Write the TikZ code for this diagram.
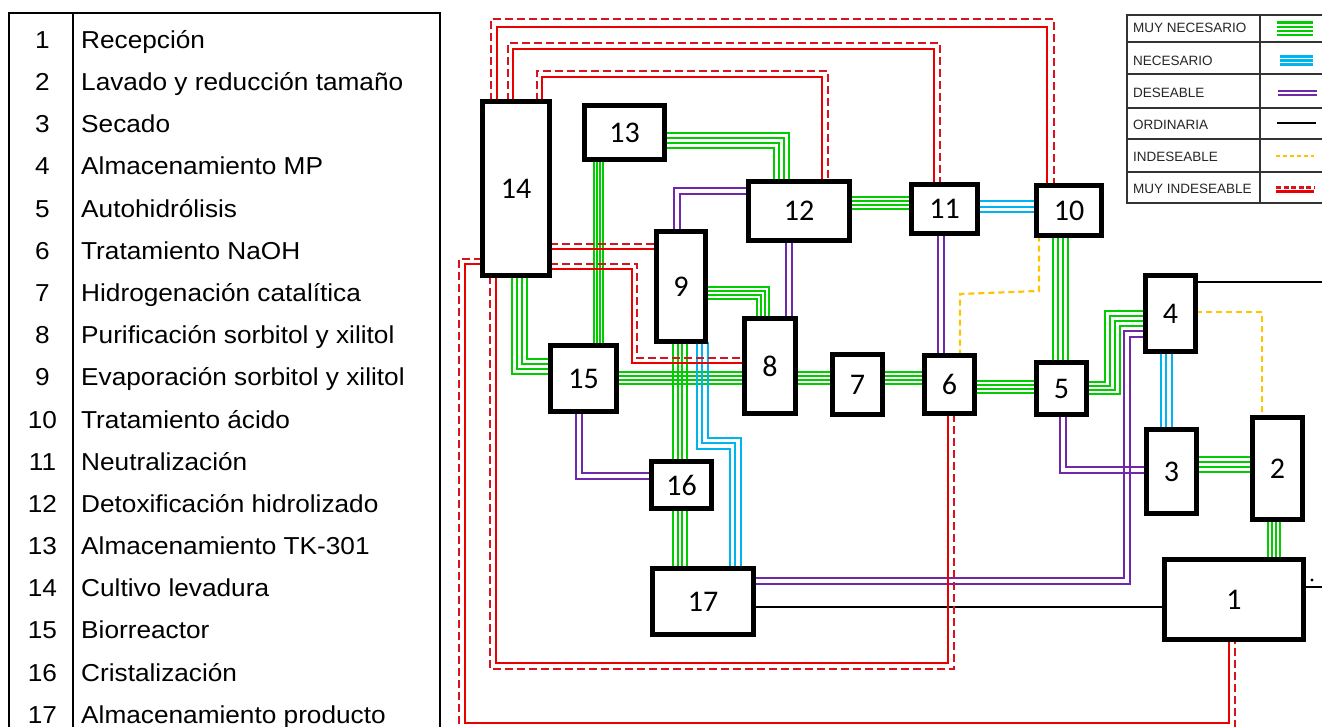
\documentclass[tikz,border=0pt]{standalone}
\usepackage{fontspec}
\setmainfont{Liberation Sans}
\newfontfamily\boxfont{Carlito}
\newfontfamily\tabfont[FakeStretch=1.07]{Liberation Sans}
\usetikzlibrary{calc}
\definecolor{cg}{RGB}{0,204,0}
\definecolor{cc}{RGB}{0,180,240}
\definecolor{cp}{RGB}{112,40,170}
\definecolor{cy}{RGB}{255,196,0}
\definecolor{cr}{RGB}{235,0,0}
\definecolor{crd}{RGB}{215,20,30}
\begin{document}
\begin{tikzpicture}[x=1pt,y=-1pt,
  bx/.style={inner sep=0pt, outer sep=0pt, font=\boxfont\fontsize{30}{31}\selectfont},
  bord/.style={draw=black, line width=4.8pt},
  gl/.style={draw=cg, line width=2pt},
  cl/.style={draw=cc, line width=2pt},
  pl/.style={draw=cp, line width=1.9pt},
  bl/.style={draw=black, line width=1.8pt},
  yl/.style={draw=cy, line width=2.2pt, dash pattern=on 6pt off 4pt},
  rs/.style={draw=cr, line width=2.4pt},
  rd/.style={draw=crd, line width=2.6pt, dash pattern=on 8pt off 4pt},
  tabline/.style={draw=black, line width=2pt},
  legline/.style={draw=black!80, line width=1.5pt},
  tabtxt/.style={font=\tabfont\fontsize{24.5}{26}\selectfont, inner sep=0pt},
  legtxt/.style={font=\fontsize{13.5}{15}\selectfont, inner sep=0pt, anchor=base west, text=black!85}
]
\useasboundingbox (0,0) rectangle (1322,727);
\clip (0,0) rectangle (1322,727);
\fill[white] (0,0) rectangle (1322,727);

% ---------- left table ----------
\draw[tabline] (9,13) rectangle (440,760);
\draw[tabline] (73,13) -- (73,760);
\foreach \i/\t in {1/Recepción,2/Lavado y reducción tamaño,3/Secado,4/Almacenamiento MP,
  5/Autohidrólisis,6/Tratamiento NaOH,7/Hidrogenación catalítica,8/Purificación sorbitol y xilitol,
  9/Evaporación sorbitol y xilitol,10/Tratamiento ácido,11/Neutralización,12/Detoxificación hidrolizado,
  13/Almacenamiento TK-301,14/Cultivo levadura,15/Biorreactor,16/Cristalización,17/Almacenamiento producto}{
  \node[tabtxt, anchor=base] (tn\i) at (42.5,{48.3+(\i-1)*42.19}) {\i};
  \node[tabtxt, anchor=base west] (tt\i) at (81,{48.3+(\i-1)*42.19}) {\t};
}

% ---------- legend ----------
\draw[legline] (1127,15) rectangle (1340,203);
\foreach \yy in {42,74,108,139,172} \draw[legline] (1127,\yy) -- (1340,\yy);
\draw[legline] (1260,15) -- (1260,203);
\node[legtxt] (l1) at (1133,32.7) {MUY NECESARIO};
\node[legtxt] (l2) at (1133,65.5) {NECESARIO};
\node[legtxt] (l3) at (1133,97.3) {DESEABLE};
\node[legtxt] (l4) at (1133,129.3) {ORDINARIA};
\node[legtxt] (l5) at (1133,161.5) {INDESEABLE};
\node[legtxt] (l6) at (1133,194) {MUY INDESEABLE};
\foreach \k in {-6.3,-2.1,2.1,6.3} \draw[gl, line width=2.4pt] (1277,29+\k) -- (1313,29+\k);
\foreach \k in {-3.9,0,3.9} \draw[cl, line width=2.4pt] (1280,60.5+\k) -- (1313,60.5+\k);
\foreach \k in {-2,2} \draw[pl, line width=2.2pt] (1278,93+\k) -- (1317,93+\k);
\draw[bl, line width=2.2pt] (1277,123.3) -- (1316,123.3);
\draw[yl, dash pattern=on 4pt off 3pt] (1276,155.7) -- (1314,155.7);
\draw[rd, dash pattern=on 5pt off 2.5pt] (1276,187.7) -- (1314,187.7);
\draw[rs] (1276,191.7) -- (1314,191.7);

% ---------- process nodes (borders drawn last) ----------
\node[bx, minimum width=139.5, minimum height=80.5] (n1) at (1234,599.5) {1};
\node[bx, minimum width=50.5, minimum height=102.5] (n2) at (1277.5,468.5) {2};
\node[bx, minimum width=50.5, minimum height=84.5] (n3) at (1171.5,471.5) {3};
\node[bx, minimum width=50.5, minimum height=76.5] (n4) at (1170.5,313.5) {4};
\node[bx, minimum width=50.5, minimum height=52.5] (n5) at (1061.5,388.5) {5};
\node[bx, minimum width=50.5, minimum height=58.5] (n6) at (949.5,384.5) {6};
\node[bx, minimum width=50.5, minimum height=60.5] (n7) at (857.5,384.5) {7};
\node[bx, minimum width=51.5, minimum height=95.5] (n8) at (770,366) {8};
\node[bx, minimum width=49.5, minimum height=110.5] (n9) at (681,286.5) {9};
\node[bx, minimum width=65.5, minimum height=50.5] (n10) at (1069,210.5) {10};
\node[bx, minimum width=66.5, minimum height=49.5] (n11) at (944.5,209) {11};
\node[bx, minimum width=101.5, minimum height=59.5] (n12) at (799,211) {12};
\node[bx, minimum width=80.5, minimum height=54.5] (n13) at (624.5,132.5) {13};
\node[bx, minimum width=67.5, minimum height=174.5] (n14) at (516,188.5) {14};
\node[bx, minimum width=66.5, minimum height=66.5] (n15) at (583.5,378.5) {15};
\node[bx, minimum width=60.5, minimum height=47.5] (n16) at (681.5,485) {16};
\node[bx, minimum width=101.5, minimum height=66.5] (n17) at (703,601.5) {17};
\coordinate (e4) at (1322,282);
\coordinate (e1) at (1322,587);

% ---------- MUY NECESARIO (4 green lines) ----------
\foreach \k in {-7.5,-2.5,2.5,7.5}{
  \draw[gl] ($(n13.east |- 0,141)+(0,\k)$) -| ($(n12.north -| 781,0)+(-\k,0)$);
  \draw[gl] ($(n13.south -| 598,0)+(0.6*\k,0)$) -- ($(n15.north -| 598,0)+(0.6*\k,0)$);
  \draw[gl] ($(n14.south -| 519,0)+(\k,0)$) |- ($(n15.west |- 0,366)+(0,-\k)$);
  \draw[gl] ($(n15.east |- 0,378)+(0,0.85*\k)$) -- ($(n8.west |- 0,378)+(0,0.85*\k)$);
  \draw[gl] ($(n9.east |- 0,293)+(0,0.85*\k)$) -| ($(n8.north -| 763,0)+(-0.85*\k,0)$);
  \draw[gl] ($(n9.south -| 680,0)+(0.9*\k,0)$) -- ($(n16.north -| 680,0)+(0.9*\k,0)$);
  \draw[gl] ($(n16.south -| 680,0)+(0.9*\k,0)$) -- ($(n17.north -| 680,0)+(0.9*\k,0)$);
  \draw[gl] ($(n8.east |- 0,378)+(0,0.85*\k)$) -- ($(n7.west |- 0,378)+(0,0.85*\k)$);
  \draw[gl] ($(n7.east |- 0,378)+(0,0.85*\k)$) -- ($(n6.west |- 0,378)+(0,0.85*\k)$);
  \draw[gl] ($(n6.east |- 0,387)+(0,0.85*\k)$) -- ($(n5.west |- 0,387)+(0,0.85*\k)$);
  \draw[gl] ($(n12.east |- 0,203)+(0,0.8*\k)$) -- ($(n11.west |- 0,203)+(0,0.8*\k)$);
  \draw[gl] ($(n10.south -| 1060,0)+(\k,0)$) -- ($(n5.north -| 1060,0)+(\k,0)$);
  \draw[gl] ($(n5.east |- 0,388)+(0,0.85*\k)$) -| ($(1112,318)+(\k,\k)$) -- ($(n4.west |- 0,318)+(0,\k)$);
  \draw[gl] ($(n3.east |- 0,464)+(0,\k)$) -- ($(n2.west |- 0,464)+(0,\k)$);
  \draw[gl] ($(n2.south -| 1274,0)+(0.85*\k,0)$) -- ($(n1.north -| 1274,0)+(0.85*\k,0)$);
}

% ---------- NECESARIO (3 cyan lines) ----------
\foreach \k in {-5.5,0,5.5}{
  \draw[cl] ($(n11.east |- 0,207)+(0,\k)$) -- ($(n10.west |- 0,207)+(0,\k)$);
  \draw[cl] ($(n4.south -| 1166,0)+(\k,0)$) -- ($(n3.north -| 1166,0)+(\k,0)$);
  \draw[cl] ($(n9.south -| 702,0)+(\k,0)$) |- ($(735,443)+(\k,-\k)$) -- ($(n17.north -| 735,0)+(\k,0)$);
}

% ---------- DESEABLE (2 purple lines) ----------
\foreach \k in {-3.25,3.25}{
  \draw[pl] ($(n12.west |- 0,191)+(0,\k)$) -| ($(n9.north -| 677,0)+(\k,0)$);
  \draw[pl] ($(n12.south -| 789,0)+(\k,0)$) -- ($(n8.north -| 789,0)+(\k,0)$);
  \draw[pl] ($(n11.south -| 941,0)+(\k,0)$) -- ($(n6.north -| 941,0)+(\k,0)$);
  \draw[pl] ($(n15.south -| 579,0)+(\k,0)$) |- ($(n16.west |- 0,476)+(0,-\k)$);
  \draw[pl] ($(n5.south -| 1063,0)+(\k,0)$) |- ($(n3.west |- 0,470)+(0,-\k)$);
  \draw[pl] ($(n17.east |- 0,581)+(0,\k)$) -| ($(1127,334)+(\k,\k)$) -- ($(n4.west |- 0,334)+(0,\k)$);
}

% ---------- ORDINARIA ----------
\draw[bl] (n17.east |- 0,607) -- (n1.west |- 0,607);
\draw[bl] (n4.east |- 0,282) -- (e4);
\draw[bl] (n1.east |- 0,587) -- (e1);
\fill (1312,580) circle (1.6pt);

% ---------- INDESEABLE ----------
\draw[yl] (n10.south -| 1039,0) -- (1039,291) -- (960,294) -- (n6.north -| 960,0);
\draw[yl] (n4.east |- 0,312) -| (n2.north -| 1262,0);

% ---------- MUY INDESEABLE ----------
\draw[rs] (n14.north -| 497,0) |- (1047,27) -- (n10.north -| 1047,0);
\draw[rd] (n14.north -| 491,0) |- (1054,19) -- (n10.north -| 1054,0);
\draw[rs] (n14.north -| 513,0) |- (934,49) -- (n11.north -| 934,0);
\draw[rd] (n14.north -| 508,0) |- (940,43) -- (n11.north -| 940,0);
\draw[rs] (n14.north -| 542,0) |- (822,77) -- (n12.north -| 822,0);
\draw[rd] (n14.north -| 537,0) |- (828,71) -- (n12.north -| 828,0);
\draw[rs] (n14.east |- 0,249) -- (n9.west |- 0,249);
\draw[rd] (n14.east |- 0,244) -- (n9.west |- 0,244);
\draw[rs] (n14.east |- 0,269) -| (632,363) -- (n8.west |- 0,363);
\draw[rd] (n14.east |- 0,264) -| (637,358) -- (n8.west |- 0,358);
\draw[rs] (n14.south -| 496,0) |- (948,663) -- (n6.south -| 948,0);
\draw[rd] (n14.south -| 490,0) |- (954,669) -- (n6.south -| 954,0);
\draw[rs] (n14.west |- 0,264) -| (465,723) -| (n1.south -| 1229,0);
\draw[rd] (n14.west |- 0,259) -| (459,730) -| (n1.south -| 1235,0);

% ---------- box borders ----------
\foreach \n in {1,...,17} \draw[bord] (n\n.south west) rectangle (n\n.north east);
\end{tikzpicture}
\end{document}
